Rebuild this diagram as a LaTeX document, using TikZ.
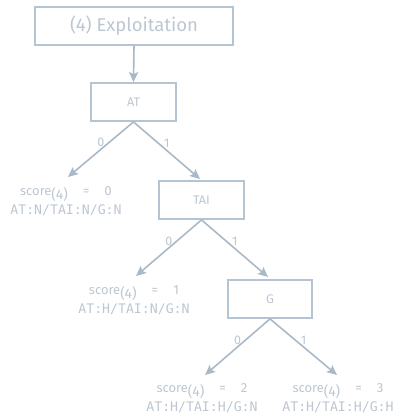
\documentclass[tikz,border=0pt]{standalone}
\usepackage{fontspec}
\setmainfont{Fira Sans}
\setmonofont{DejaVu Sans Mono}
\usetikzlibrary{arrows.meta}
\definecolor{edgecol}{HTML}{B4C4D2}
\definecolor{arrowcol}{HTML}{A9B9C8}
\definecolor{txtcol}{HTML}{BCC7D2}
\newcommand{\scoreline}[1]{{\fontsize{13}{12}\selectfont score}\raisebox{-4.5pt}{\fontsize{14}{12}\selectfont(4)}\hspace{15pt}=\hspace{15pt}#1}
\tikzset{
  stepbox/.style={draw=edgecol, line width=1.8pt, minimum width=85pt, minimum height=38pt,
    inner sep=0pt, text=txtcol, font=\fontsize{12.5}{12}\selectfont},
  titlebox/.style={stepbox, minimum width=198pt, font=\fontsize{18.5}{20}\selectfont},
  branch/.style={draw=arrowcol, line width=1.6pt, -{Stealth[length=10pt, width=9pt, inset=2pt]}},
  bit/.style={text=txtcol, font=\fontsize{12.5}{12}\selectfont, inner sep=1pt},
  leaf/.style={text=txtcol, align=center, inner sep=0pt, font=\fontsize{13.2}{19}\selectfont}
}
\begin{document}
\begin{tikzpicture}[x=1pt, y=-1pt]
  \useasboundingbox (0,0) rectangle (396,415);

  % decision nodes
  \node[titlebox] (expl) at (134,26) {(4) Exploitation};
  \node[stepbox] (at)  at (133.5,102) {AT};
  \node[stepbox] (tai) at (201.5,200) {TAI};
  \node[stepbox, minimum width=84pt] (g) at (270,299) {G};

  % outcomes
  \node[leaf] (l0) at (66,201)  {\scoreline{0}\\\ttfamily AT:N/TAI:N/G:N};
  \node[leaf] (l1) at (134,300) {\scoreline{1}\\\ttfamily AT:H/TAI:N/G:N};
  \node[leaf] (l2) at (202,398) {\scoreline{2}\\\ttfamily AT:H/TAI:H/G:N};
  \node[leaf] (l3) at (338,398) {\scoreline{3}\\\ttfamily AT:H/TAI:H/G:H};

  % arrow end points above the outcomes and child boxes
  \coordinate (e0) at (68,177);
  \coordinate (e1) at (136,276);
  \coordinate (e2) at (205,375);
  \coordinate (e3) at (337,375);
  \coordinate (etai) at (200,179);
  \coordinate (eg) at (268,277);

  \draw[branch] (expl.south) -- (at.north);
  \draw[branch] (at.south) -- node[bit, midway, above=1pt] {0} (e0);
  \draw[branch] (at.south) -- node[bit, midway, above=1pt] {1} (etai);
  \draw[branch] (tai.south) -- node[bit, midway, above=1pt] {0} (e1);
  \draw[branch] (tai.south) -- node[bit, midway, above=1pt] {1} (eg);
  \draw[branch] (g.south) -- node[bit, midway, above=1pt] {0} (e2);
  \draw[branch] (g.south) -- node[bit, midway, above=1pt] {1} (e3);
\end{tikzpicture}
\end{document}
